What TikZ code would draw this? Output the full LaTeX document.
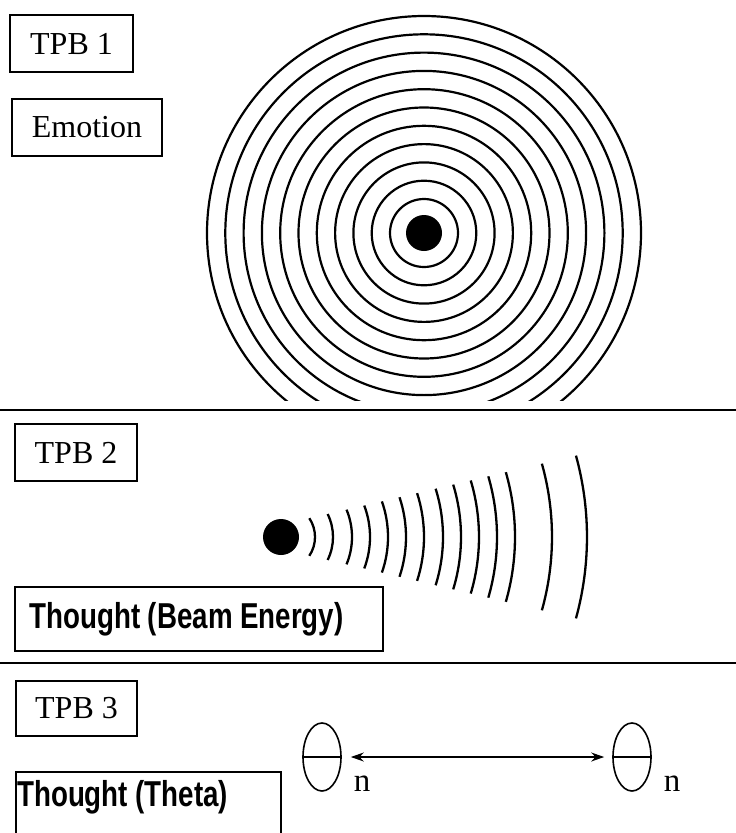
\documentclass[tikz,border=0pt]{standalone}
\usepackage{fontspec}
\setmainfont{Liberation Serif}
\newfontfamily\thoughtfont[FakeStretch=0.77]{Liberation Sans}
\usetikzlibrary{positioning, calc, arrows.meta, shapes.geometric}

\tikzset{
  tbox/.style={draw, line width=1.6pt, inner sep=0pt, minimum height=57pt,
    font=\fontsize{32}{38}\selectfont},
  lbl/.style={font=\thoughtfont\bfseries\fontsize{36}{42}\selectfont, inner sep=0pt},
  ring/.style={line width=2.2pt},
  wave/.style={line width=2.3pt},
  divider/.style={line width=1.8pt},
  cell/.style={ellipse, draw, line width=1.6pt, minimum width=38pt,
    minimum height=68pt, inner sep=0pt},
  nlabel/.style={font=\fontsize{33}{38}\selectfont, inner sep=0pt}
}

\begin{document}
\begin{tikzpicture}[x=1pt, y=-1pt]
    \useasboundingbox (0,0) rectangle (736,833);

    % Panel TPB 1: emotion spreading out in full rings
    \node[tbox, minimum width=123pt] (tpba) at (71.5,43.5) {TPB 1};
    \node[tbox, minimum width=150pt] (emo) at (87,127.5) {Emotion};
    \node[circle, fill, inner sep=0pt, minimum size=36pt] (edot) at (424,233) {};
    \begin{scope}
        \clip (0,0) rectangle (736,400);
        \foreach \k in {0,...,10}
            \draw[ring] (edot.center) circle[radius=34+18.3*\k];
    \end{scope}
    \draw[divider] (0,410) -- (736,410);

    % Panel TPB 2: thought as a narrow beam
    \node[tbox, minimum width=122pt] (tpbb) at (76,452.5) {TPB 2};
    \node[circle, fill, inner sep=0pt, minimum size=36pt] (bdot) at (281,537) {};
    \foreach \r in {34,52,71,89,107,125,143,162,180,198,216,234,271,306} {
        \pgfmathsetmacro\ang{asin((11+0.23*\r)/\r)}
        \draw[wave] ([shift={(bdot.center)}]-\ang:\r)
            arc[start angle=-\ang, end angle=\ang, radius=\r];
    }
    \node[tbox, minimum width=368pt, minimum height=64pt] (beambox) at (199,619) {};
    \node[lbl, anchor=west] (beamtxt) at ([xshift=15pt]beambox.west) {Thought (Beam Energy)};
    \draw[divider] (0,663) -- (736,663);

    % Panel TPB 3: theta link between two cells
    \node[tbox, minimum width=121pt, minimum height=55pt] (tpbc) at (76.5,708.5) {TPB 3};
    \node[draw, line width=1.6pt, inner sep=0pt, minimum width=265pt,
        minimum height=80pt] (thetabox) at (148.5,812) {};
    \node[lbl, anchor=west] (thetatxt) at (17,797) {Thought (Theta)};
    \node[cell] (cl) at (322,757) {};
    \node[cell] (cr) at (632,757) {};
    \draw[line width=1.4pt] (cl.west) -- (cl.east);
    \draw[line width=1.4pt] (cr.west) -- (cr.east);
    \draw[line width=1.5pt, {Stealth[length=13pt, width=9pt]}-{Stealth[length=13pt, width=9pt]},
        shorten <=9pt, shorten >=8pt] (cl.east) -- (cr.west);
    \node[nlabel] (nl) at (362,784) {n};
    \node[nlabel] (nr) at (672,784) {n};

\end{tikzpicture}
\end{document}
